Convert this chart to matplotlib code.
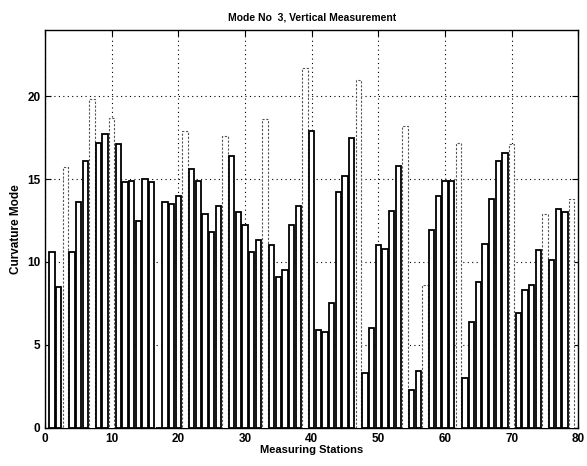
import numpy as np
import matplotlib
matplotlib.use("Agg")
import matplotlib.pyplot as plt

# curvature mode per measuring station
stations = list(range(1, 80))
curvature = [10.6, 8.5, 15.7, 10.6, 13.6, 16.1, 19.8, 17.2, 17.7, 18.7,
             17.1, 14.8, 14.9, 12.5, 15.0, 14.8, 0.0, 13.6, 13.5, 14.0,
             17.9, 15.6, 14.9, 12.9, 11.8, 13.4, 17.6, 16.4, 13.0, 12.2,
             10.6, 11.3, 18.6, 11.0, 9.1, 9.5, 12.2, 13.4, 21.7, 17.9,
             5.9, 5.8, 7.5, 14.2, 15.2, 17.5, 21.0, 3.3, 6.0, 11.0,
             10.8, 13.1, 15.8, 18.2, 2.3, 3.4, 8.6, 11.9, 14.0, 14.9,
             14.9, 17.2, 3.0, 6.4, 8.8, 11.1, 13.8, 16.1, 16.6, 17.1,
             6.9, 8.3, 8.6, 10.7, 12.9, 10.1, 13.2, 13.0, 13.8]

# bars whose outline came out faint in the scan
faint = [3, 7, 10, 21, 27, 33, 39, 47, 54, 57, 62, 70, 75, 79]

title = "Mode No  3, Vertical Measurement"
xlabel = "Measuring Stations"
ylabel = "Curvature Mode"

plt.rcParams['font.family'] = ['Liberation Sans', 'DejaVu Sans']
plt.rcParams['font.weight'] = 'bold'

fig = plt.figure(figsize=(5.87, 4.66), dpi=100)
ax = fig.add_axes([0.077, 0.082, 0.908, 0.854])

bars = ax.bar(stations, curvature, width=0.8, facecolor='white',
              edgecolor='black', linewidth=1.3, zorder=3)
for s, b in zip(stations, bars):
    if s in faint:
        b.set_linestyle((0, (2, 1.5)))
        b.set_linewidth(0.8)
        b.set_edgecolor('#555555')

ax.set_xlim(0, 80)
ax.set_ylim(0, 24)
ax.set_xticks(np.arange(0, 81, 10))
ax.set_yticks(np.arange(0, 21, 5))
ax.grid(True, color='black', linestyle=(0, (1, 3)), linewidth=0.8, zorder=1)
ax.tick_params(direction='in', top=True, right=True, length=4, labelsize=8.5)
for sp in ax.spines.values():
    sp.set_linewidth(1.0)

ax.set_title(title, fontsize=7.5, fontweight='bold', pad=7)
ax.set_xlabel(xlabel, fontsize=8, fontweight='bold', labelpad=0)
ax.set_ylabel(ylabel, fontsize=8.5, fontweight='bold', labelpad=4)

fig.savefig("out.png", dpi=100)
